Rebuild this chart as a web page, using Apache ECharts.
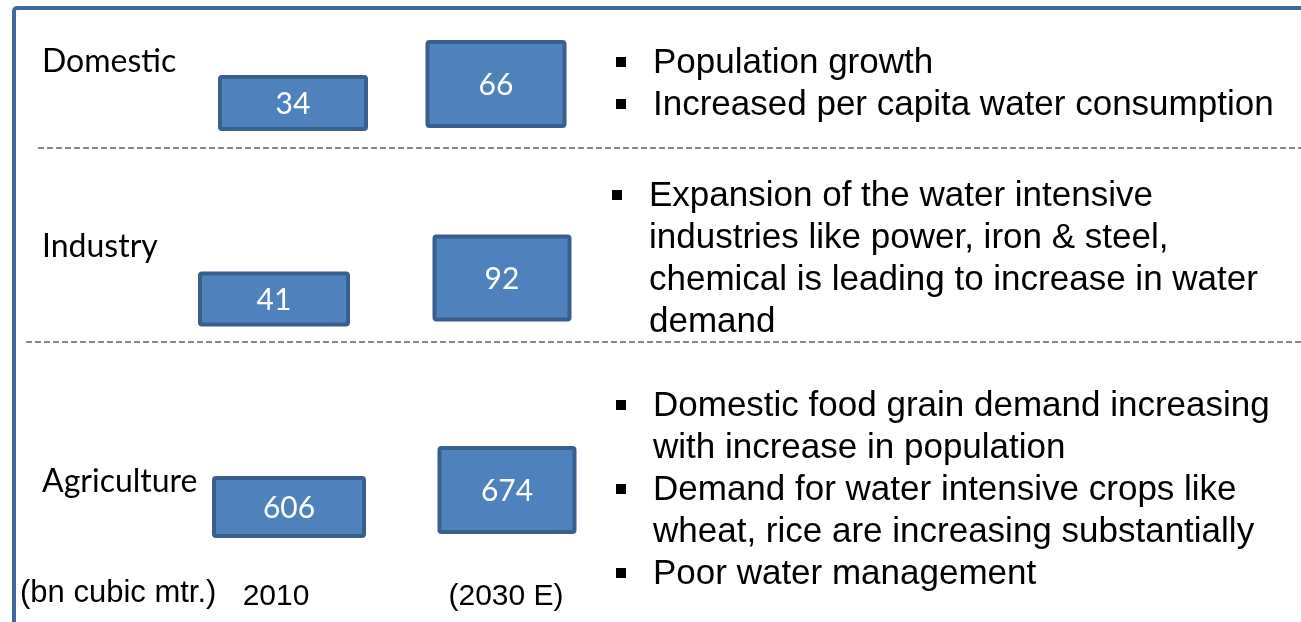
<!DOCTYPE html>
<html>
<head>
<meta charset="utf-8">
<script src="https://cdn.jsdelivr.net/npm/echarts@6/dist/echarts.min.js"></script>
<style>
  html, body { margin: 0; padding: 0; background: #fff; }
  #chart { width: 1301px; height: 622px; }
</style>
</head>
<body>
<div id="chart"></div>
<script>
// 数据
var sectors = ['Domestic', 'Industry', 'Agriculture'];
var years = ['2010', '(2030 E)'];
var demand2010 = [34, 41, 606]; // bn cubic mtr.
var demand2030 = [66, 92, 674];
var unitLabel = '(bn cubic mtr.)';
// 每个行业的驱动因素（每条要点拆成显示的行）
var drivers = [
    [['Population growth'], ['Increased per capita water consumption']],
    [['Expansion of the water intensive', 'industries like power, iron & steel,',
      'chemical is leading to increase in water', 'demand']],
    [['Domestic food grain demand increasing', 'with increase in population'],
     ['Demand for water intensive crops like', 'wheat, rice are increasing substantially'],
     ['Poor water management']]
];

// 布局（像素）
var frameColor = '#41689b';
var boxFill = '#4f81bd';
var boxStroke = '#3b5f8d';
var rows = [
    { top: 8, height: 108, sepY: 148, sepLeft: 38, bulletX: 616, textX: 653, lineY: 63 },
    { top: 148, height: 198, sepY: 342, sepLeft: 26, bulletX: 612, textX: 649, lineY: 196 },
    { top: 342, height: 280, bulletX: 616, textX: 653, lineY: 406 }
];
var lineGap = 42;
// 方框相对类目中心的偏移与尺寸 [dx, dy, w, h]
var boxLayout = [
    [[17, 41, 150, 56], [-10, 22, 141, 88]],
    [[-2, 52, 152, 55], [-4, 31, 139, 87]],
    [[13, 25, 154, 62], [1, 8, 139, 88]]
];

var grids = [], xAxes = [], yAxes = [], series = [];
rows.forEach(function (r, i) {
    grids.push({ left: 161, width: 460, top: r.top, height: r.height });
    xAxes.push({
        type: 'category', gridIndex: i, data: years,
        axisLine: { show: false }, axisTick: { show: false }, splitLine: { show: false },
        axisLabel: {
            show: i === rows.length - 1, inside: true, margin: 10,
            color: '#000', fontFamily: 'Liberation Sans', fontSize: 30
        }
    });
    yAxes.push({
        type: 'category', gridIndex: i, data: [sectors[i]],
        axisLine: { show: false }, axisTick: { show: false }, splitLine: { show: false },
        axisLabel: { align: 'left', margin: 119, color: '#000', fontFamily: 'Lato', fontSize: 32 }
    });
    series.push({
        type: 'custom', xAxisIndex: i, yAxisIndex: i,
        data: [[0, 0, demand2010[i]], [1, 0, demand2030[i]]],
        renderItem: function (params, api) {
            var yi = api.value(0);
            var c = api.coord([yi, api.value(1)]);
            var L = boxLayout[i][yi];
            var cx = c[0] + L[0], cy = c[1] + L[1];
            return {
                type: 'group',
                children: [{
                    type: 'rect',
                    shape: { x: cx - L[2] / 2 + 2, y: cy - L[3] / 2 + 2, width: L[2] - 4, height: L[3] - 4, r: 2 },
                    style: { fill: boxFill, stroke: boxStroke, lineWidth: 4 }
                }, {
                    type: 'text',
                    style: {
                        text: String(api.value(2)), x: cx, y: cy + 1,
                        align: 'center', verticalAlign: 'middle',
                        fill: '#fff', font: '30px Lato'
                    }
                }]
            };
        }
    });
});

// 边框、分隔虚线、单位和要点文字
var graphics = [{
    type: 'rect', silent: true,
    shape: { x: 14, y: 8, width: 1400, height: 700, r: 3 },
    style: { fill: 'none', stroke: frameColor, lineWidth: 4 }
}, {
    type: 'text', left: 20, top: 578,
    style: { text: unitLabel, fill: '#000', font: '31px "Liberation Sans"' }
}];
rows.forEach(function (r, i) {
    if (r.sepY) {
        graphics.push({
            type: 'line',
            shape: { x1: r.sepLeft, y1: r.sepY, x2: 1301, y2: r.sepY },
            style: { stroke: '#8a8a8a', lineWidth: 2, lineDash: [6, 3] }
        });
    }
    var n = 0;
    drivers[i].forEach(function (item) {
        item.forEach(function (line, k) {
            var y = r.lineY + n * lineGap;
            if (k === 0) {
                graphics.push({
                    type: 'rect',
                    shape: { x: r.bulletX, y: y - 6, width: 10, height: 10 },
                    style: { fill: '#000' }
                });
            }
            graphics.push({
                type: 'text',
                x: r.textX, y: y,
                style: { text: line, fill: '#000', font: '35px "Liberation Sans"', verticalAlign: 'middle' }
            });
            n++;
        });
    });
});

var chart = echarts.init(document.getElementById('chart'));
chart.setOption({
    animation: false,
    backgroundColor: '#fff',
    grid: grids,
    xAxis: xAxes,
    yAxis: yAxes,
    series: series,
    graphic: graphics
});
</script>
</body>
</html>
